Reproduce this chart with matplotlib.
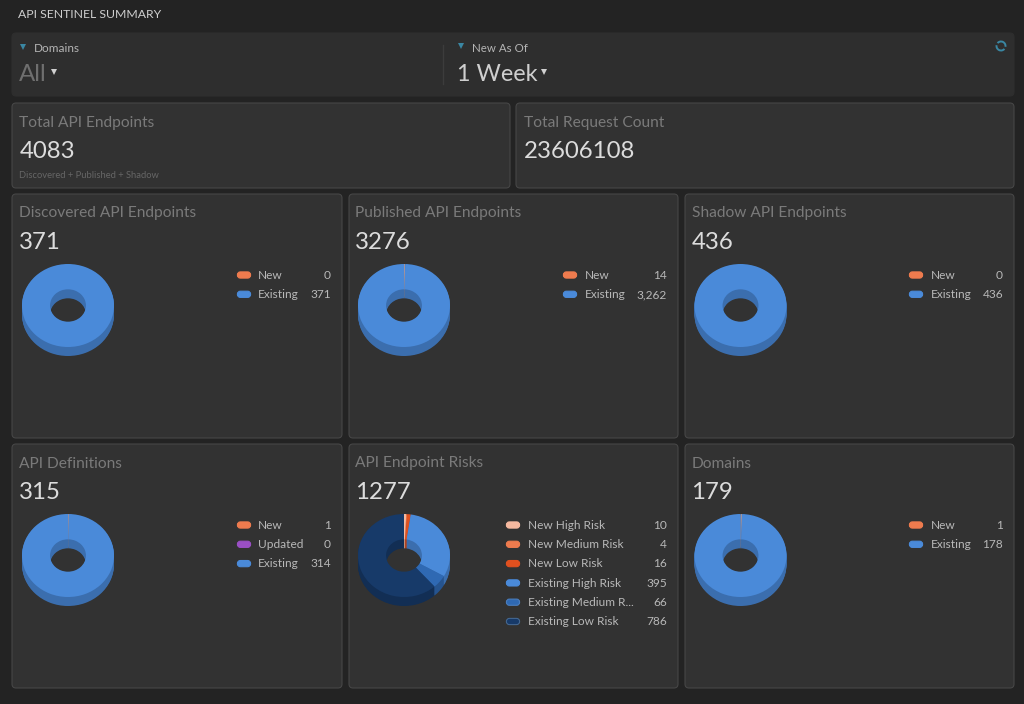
"""API Sentinel summary dashboard: dark panels with 3D-looking donuts."""

import numpy as np
import matplotlib
matplotlib.use("Agg")
import matplotlib.pyplot as plt
from matplotlib.colors import to_rgb
from matplotlib.patches import Arc, FancyBboxPatch

plt.rcParams["font.family"] = ["Lato", "DejaVu Sans"]

W, H = 1024, 704

# chart values
PANEL_TITLES = ["Discovered API Endpoints", "Published API Endpoints", "Shadow API Endpoints",
                "API Definitions", "API Endpoint Risks", "Domains"]
PANEL_TOTALS = ["371", "3276", "436", "315", "1277", "179"]

NEW_EXISTING = ["New", "Existing"]
DEFINITION_LABELS = ["New", "Updated", "Existing"]
RISK_LABELS = ["New High Risk", "New Medium Risk", "New Low Risk",
               "Existing High Risk", "Existing Medium R...", "Existing Low Risk"]

DISCOVERED_VALUES = [0, 371]
PUBLISHED_VALUES = [14, 3262]
SHADOW_VALUES = [0, 436]
DEFINITION_VALUES = [1, 0, 314]
RISK_VALUES = [10, 4, 16, 395, 66, 786]
DOMAIN_VALUES = [1, 178]

ORANGE = "#ee7b4e"
BLUE = "#4a8ad9"
PURPLE = "#9a4fc4"
SLIVER = "#a3939e"  # hairline "New" slices look washed out in the reference
NE_COLORS = [ORANGE, BLUE]
DEF_COLORS = [ORANGE, PURPLE, BLUE]
RISK_COLORS = ["#f5b9a0", ORANGE, "#e0501f", BLUE, "#2f69b3", "#173a69"]
RISK_EDGES = ["#f5b9a0", ORANGE, "#e0501f", BLUE, "#4a7dbd", "#43668f"]

PAGE_BG = "#232323"
PANEL_BG = "#323232"
FILTER_BG = "#2e2e2e"
BORDER = "#464646"
TITLE_C = "#7a7a7a"
NUMBER_C = "#dcdcdc"
LEGEND_C = "#b8b8b8"
TEAL = "#3a87a3"


def px(size):
    return size * 0.72


def draw_panel(ax, x0, y0, x1, y1, face=PANEL_BG, edge=BORDER):
    ax.add_patch(FancyBboxPatch((x0 + 3, y0 + 3), x1 - x0 - 6, y1 - y0 - 6,
                                boxstyle="round,pad=3,rounding_size=4",
                                facecolor=face, edgecolor=edge, linewidth=0.8))


def draw_donut(fig, cx, cy, values, colors):
    rx, ry, depth = 46.0, 41.5, 9.0
    lim = 1.02
    left = cx - rx * lim
    bottom = cy + ry * lim + depth
    ax = fig.add_axes([left / W, 1 - bottom / H, 2 * rx * lim / W, (2 * ry * lim + depth) / H])
    side = [tuple(c * 0.8 for c in to_rgb(col)) for col in colors]
    drop = depth / ry

    # stack of darker rings makes the extruded side and inner wall
    for off in np.linspace(drop, drop / 12, 12):
        ax.pie(values, colors=side, center=(0, -off), radius=1, startangle=90,
               counterclock=False, wedgeprops={"width": 0.61, "linewidth": 0})
    ax.pie(values, colors=colors, center=(0, 0), radius=1, startangle=90,
           counterclock=False, wedgeprops={"width": 0.61, "linewidth": 0})
    ax.set_aspect("auto")
    ax.set_xlim(-lim, lim)
    ax.set_ylim(-lim - drop, lim)
    ax.axis("off")
    ax.patch.set_alpha(0)


def draw_legend(ax, pill_x, text_x, value_x, y_start, labels, values, colors, edges=None):
    edges = edges or colors
    for i, (lab, val) in enumerate(zip(labels, values)):
        y = y_start + i * 19.3
        ax.add_patch(FancyBboxPatch((pill_x + 2, y - 1.5), 10, 3,
                                    boxstyle="round,pad=1.6,rounding_size=3",
                                    facecolor=colors[i], edgecolor=edges[i], linewidth=0.8))
        ax.text(text_x, y + 0.3, lab, color=LEGEND_C, fontsize=px(11.9), va="center", ha="left")
        ax.text(value_x, y + 0.3, f"{val:,}", color=LEGEND_C, fontsize=px(11.9), va="center", ha="right")


def main():
    fig = plt.figure(figsize=(W / 100, H / 100), dpi=100, facecolor=PAGE_BG)
    ax = fig.add_axes([0, 0, 1, 1])
    ax.set_xlim(0, W)
    ax.set_ylim(H, 0)
    ax.axis("off")

    ax.text(18, 15, "API SENTINEL SUMMARY", color="#cfcfcf", fontsize=px(12.2), va="center")

    # filter bar
    draw_panel(ax, 12, 33, 1014, 96, face=FILTER_BG, edge=FILTER_BG)
    ax.plot([443, 443], [45, 84], color="#3c3c3c", lw=1)
    ax.plot([23, 461], [47, 46], ls="none", marker="v", ms=5, color=TEAL, mew=0)
    ax.text(34, 48, "Domains", color="#b5b5b5", fontsize=px(11.8), va="center")
    ax.text(472, 48, "New As Of", color="#b5b5b5", fontsize=px(11.5), va="center")
    ax.text(19, 74.5, "All", color="#6f6f6f", fontsize=px(24), va="center")
    ax.text(457, 74.5, "1 Week", color="#cfcfcf", fontsize=px(23.5), va="center")
    ax.plot([54, 544], [72, 72], ls="none", marker="v", ms=4, color="#d0d0d0", mew=0)
    ax.add_patch(Arc((1001, 46), 9, 9, theta1=40, theta2=190, color=TEAL, lw=1.4))
    ax.add_patch(Arc((1001, 46), 9, 9, theta1=220, theta2=370, color=TEAL, lw=1.4))

    # total cards
    draw_panel(ax, 12, 103, 510, 188)
    draw_panel(ax, 516, 103, 1014, 188)
    ax.text(19, 122.5, "Total API Endpoints", color=TITLE_C, fontsize=px(15.5), va="center")
    ax.text(20, 151.5, "4083", color=NUMBER_C, fontsize=px(24), va="center")
    ax.text(19, 175, "Discovered + Published + Shadow", color="#666666", fontsize=px(9.4), va="center")
    ax.text(524, 122.5, "Total Request Count", color=TITLE_C, fontsize=px(15.5), va="center")
    ax.text(524, 151.5, "23606108", color=NUMBER_C, fontsize=px(24), va="center")

    panel_x = [(12, 342), (349, 678), (685, 1014)]
    panel_y = [(194, 438), (444, 688)]
    x_offs = [0, 336, 672.5]
    # legend columns per panel: pill left, text left, value right
    legend_x = [(237, 258, 331), (563, 585, 667), (909, 931, 1003),
                (237, 258, 331), (506, 528, 667), (909, 931, 1003)]
    legends = [
        (NEW_EXISTING, DISCOVERED_VALUES, NE_COLORS, None),
        (NEW_EXISTING, PUBLISHED_VALUES, NE_COLORS, None),
        (NEW_EXISTING, SHADOW_VALUES, NE_COLORS, None),
        (DEFINITION_LABELS, DEFINITION_VALUES, DEF_COLORS, None),
        (RISK_LABELS, RISK_VALUES, RISK_COLORS, RISK_EDGES),
        (NEW_EXISTING, DOMAIN_VALUES, NE_COLORS, None),
    ]

    for i, (labels, values, colors, edges) in enumerate(legends):
        row, col = divmod(i, 3)
        x0, x1 = panel_x[col]
        y0, y1 = panel_y[row]
        off = x_offs[col]
        draw_panel(ax, x0, y0, x1, y1)
        ax.text(off + 19, y0 + 19.5, PANEL_TITLES[i], color=TITLE_C, fontsize=px(15.5), va="center")
        ax.text(off + 19, y0 + 48.5, PANEL_TOTALS[i], color=NUMBER_C, fontsize=px(24), va="center")
        pie_colors = [SLIVER if c == ORANGE and labels is not RISK_LABELS else c for c in colors]
        draw_donut(fig, off + 68, y0 + 111.5, values, pie_colors)
        pill_x, text_x, value_x = legend_x[i]
        draw_legend(ax, pill_x, text_x, value_x, y0 + 81, labels, values, colors, edges)

    fig.savefig("out.png", dpi=100, facecolor=PAGE_BG)


if __name__ == "__main__":
    main()
